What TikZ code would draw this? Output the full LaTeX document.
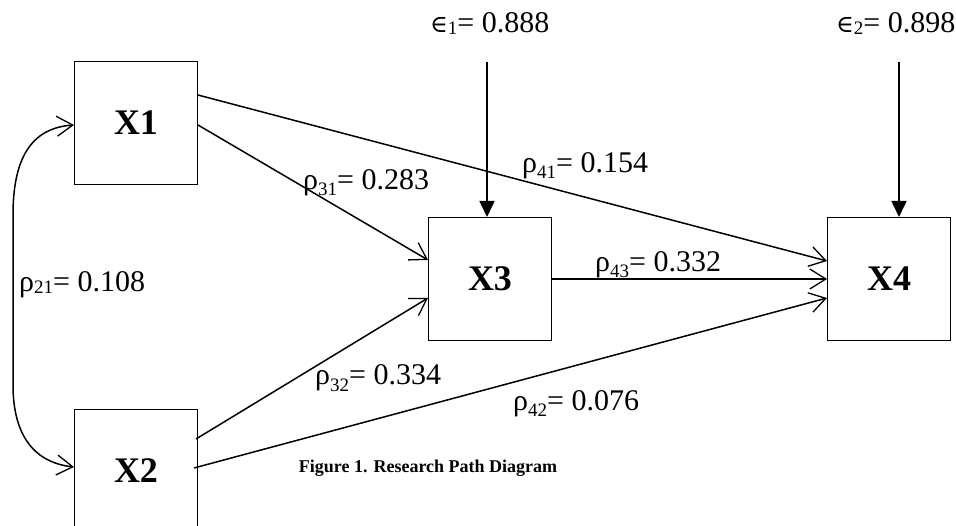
\documentclass[tikz,border=0pt]{standalone}
\usepackage{fontspec}
\setmainfont{Liberation Serif}
\newfontfamily\symf{DejaVu Serif}
\usetikzlibrary{arrows.meta}
\newcommand\lowsub[2]{\raisebox{#1}{\fontsize{19}{19}\selectfont #2}}
\begin{document}
\begin{tikzpicture}[x=1pt,y=-1pt,
  var/.style={draw, line width=1pt, minimum width=123pt, minimum height=123pt, inner sep=0pt, font=\fontsize{36}{40}\selectfont\bfseries},
  lbl/.style={anchor=base west, inner sep=0pt, font=\fontsize{30}{34}\selectfont},
  pathar/.style={line width=1.5pt, -{Straight Barb[length=16pt,width=20pt,line width=1.3pt]}},
  errar/.style={line width=1.6pt, -{Triangle[length=16pt,width=15pt]}}]
\useasboundingbox (0,0) rectangle (956,526);
\fill[white] (0,0) rectangle (956,526);

\node[var] (X1) at (136,123) {X1};
\node[var] (X2) at (136,471) {X2};
\node[var] (X3) at (490,279) {X3};
\node[var] (X4) at (889,279) {X4};

% error terms
\node[lbl] (e1) at (430,33) {{\symf\fontsize{24}{24}\selectfont ∈}\lowsub{-2pt}{1}= 0.888};
\node[lbl] (e2) at (836,33) {{\symf\fontsize{24}{24}\selectfont ∈}\lowsub{-2pt}{2}= 0.898};
\coordinate (e1s) at (487,62);
\coordinate (e2s) at (899,62);
\draw[errar] (e1s) -- (e1s |- X3.north);
\draw[errar] (e2s) -- (e2s |- X4.north);

% paths
\draw[pathar] ([yshift=28pt]X1.east) -- ([yshift=18pt]X4.west);
\draw[pathar] ([yshift=-2pt]X1.east) -- ([yshift=19pt]X3.west);
\draw[pathar] ([xshift=-2pt,yshift=32pt]X2.east) -- ([yshift=-19pt]X3.west);
\draw[pathar] ([xshift=-4pt,yshift=3pt]X2.east) -- ([yshift=-19pt]X4.west);
\draw[pathar] (X3.east) -- (X4.west);

% correlation
\draw[line width=1.5pt, {Straight Barb[length=16pt,width=20pt,line width=1.3pt]}-{Straight Barb[length=16pt,width=20pt,line width=1.3pt]}]
  ([yshift=-2pt]X1.west) .. controls (30,128) and (13,160) .. (13,215) -- (13,385) .. controls (13,430) and (30,462) .. ([yshift=4pt]X2.west);

% labels
\node[lbl] (r21) at (19,292) {ρ\lowsub{-2pt}{21}= 0.108};
\node[lbl] (r31) at (303,190) {ρ\lowsub{-6pt}{31}= 0.283};
\node[lbl] (r41) at (522,173) {ρ\lowsub{-6pt}{41}= 0.154};
\node[lbl] (r43) at (595,272) {ρ\lowsub{-6pt}{43}= 0.332};
\node[lbl] (r32) at (315,385) {ρ\lowsub{-6pt}{32}= 0.334};
\node[lbl] (r42) at (513,410) {ρ\lowsub{-6pt}{42}= 0.076};

\node[anchor=base, inner sep=0pt, font=\fontsize{18}{22}\selectfont\bfseries] (cap) at (428,472) {Figure 1. Research Path Diagram};
\end{tikzpicture}
\end{document}
